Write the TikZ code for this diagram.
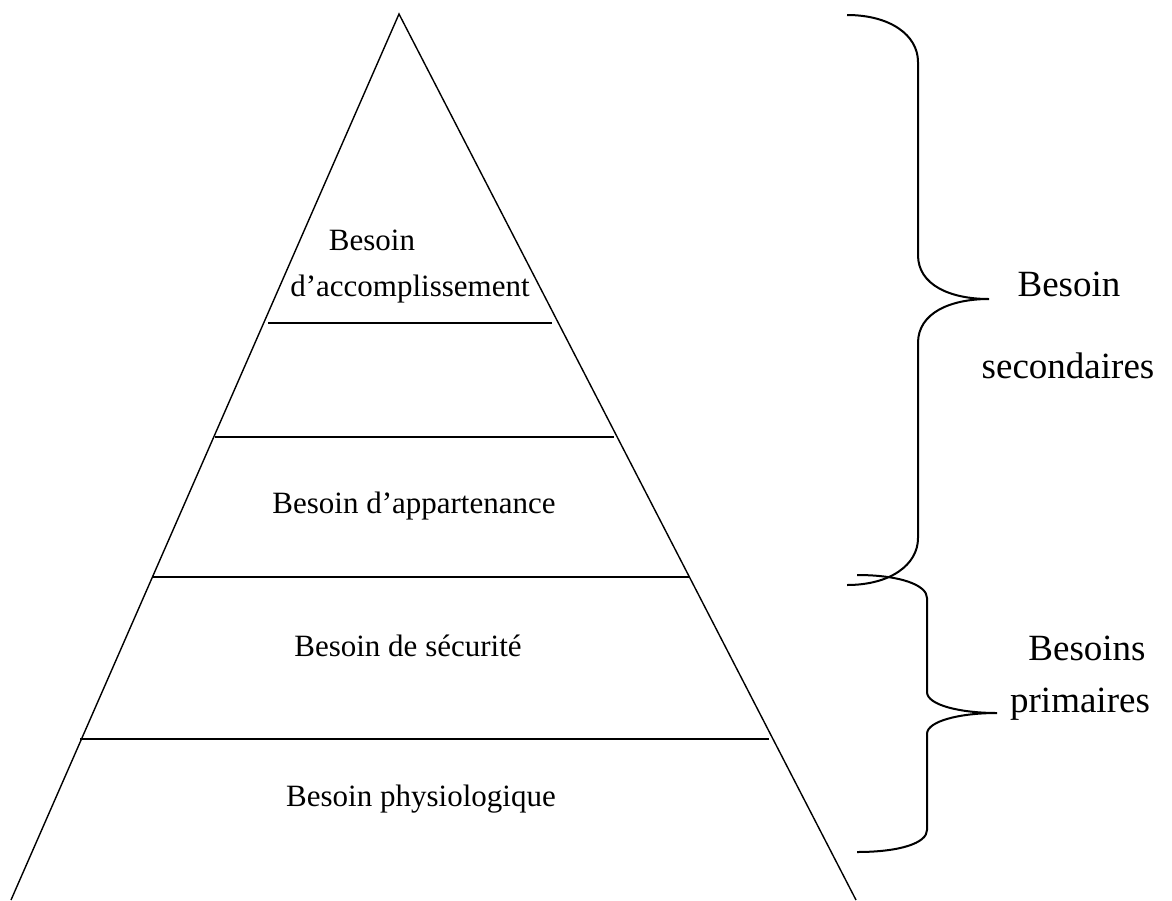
\documentclass[tikz,border=0pt]{standalone}
\usepackage{fontspec}
\setmainfont{Liberation Serif}
\begin{document}
\begin{tikzpicture}[x=1pt,y=-1pt,
  side/.style={line width=1.4pt},
  level/.style={line width=2pt},
  brace/.style={line width=2pt},
  lvltext/.style={anchor=base,inner sep=0pt,font=\fontsize{31}{37}\selectfont},
  grptext/.style={anchor=base,inner sep=0pt,font=\fontsize{37}{44}\selectfont}]
\useasboundingbox (0,0) rectangle (1172,900);

% pyramid sides
\coordinate (apex) at (399,14);
\coordinate (bl) at (11,900);
\coordinate (br) at (856,900);
\draw[side] (bl) -- (apex) -- (br);

% level separators
\draw[level] (268,323) -- (552,323);
\draw[level] (215,437) -- (614,437);
\draw[level] (153,577) -- (689,577);
\draw[level] (80,739) -- (769,739);

% level labels
\node[lvltext] (top1) at (372,250) {Besoin};
\node[lvltext] (top2) at (410,296) {d’accomplissement};
\node[lvltext] (app) at (414,513) {Besoin d’appartenance};
\node[lvltext] (sec) at (408,656) {Besoin de sécurité};
\node[lvltext] (phy) at (421,806) {Besoin physiologique};

% brace for the upper levels
\draw[brace] (847,15) .. controls (890,15) and (918,35) .. (918,62)
  -- (918,255) .. controls (918,285) and (950,299) .. (989,299)
  .. controls (950,299) and (918,313) .. (918,343)
  -- (918,538) .. controls (918,565) and (890,585) .. (847,585);

% brace for the lower levels
\draw[brace] (857,575) .. controls (900,575) and (927,585) .. (927,598)
  -- (927,692) .. controls (927,705) and (960,713) .. (997,713)
  .. controls (960,713) and (927,721) .. (927,734)
  -- (927,830) .. controls (927,843) and (900,852) .. (857,852);

% group labels
\node[grptext] (g1a) at (1069,296) {Besoin};
\node[grptext] (g1b) at (1068,378) {secondaires};
\node[grptext] (g2a) at (1087,660) {Besoins};
\node[grptext] (g2b) at (1080,712) {primaires};
\end{tikzpicture}
\end{document}
